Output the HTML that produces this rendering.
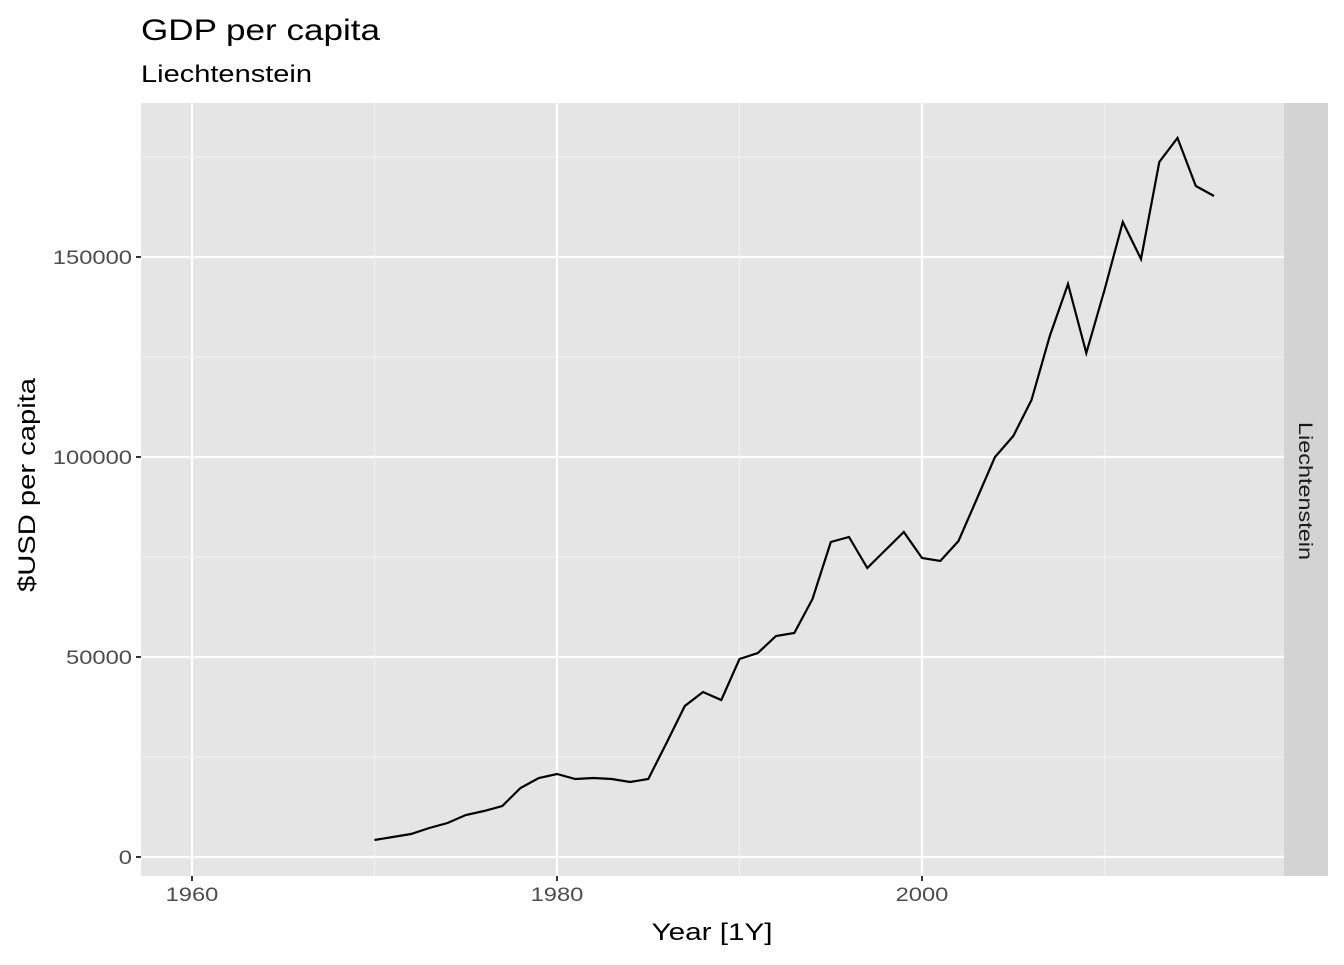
<!DOCTYPE html>
<html><head><meta charset="utf-8"><style>
body{margin:0;background:#fff;font-family:"Liberation Sans",Arial,sans-serif;}
</style></head><body>
<svg id="chart" width="1344" height="960" xmlns="http://www.w3.org/2000/svg">
<text x="141" y="40" font-size="30" textLength="239" lengthAdjust="spacingAndGlyphs" fill="#000">GDP per capita</text>
<text x="141" y="82" font-size="24" textLength="171" lengthAdjust="spacingAndGlyphs" fill="#000">Liechtenstein</text>
<rect x="141" y="103" width="1143" height="773" fill="#e5e5e5"/>
<rect x="1284" y="103" width="44" height="773" fill="#d3d3d3"/>
<text transform="translate(1299,491) rotate(90)" font-size="19" textLength="138" lengthAdjust="spacingAndGlyphs" fill="#1a1a1a" text-anchor="middle">Liechtenstein</text>
<g id="grid"></g>
<g id="series"></g>
<g id="axes"></g>
<text x="712" y="940" font-size="24" textLength="121" lengthAdjust="spacingAndGlyphs" text-anchor="middle" fill="#000">Year [1Y]</text>
<text transform="translate(35,485) rotate(-90)" font-size="24" textLength="214" lengthAdjust="spacingAndGlyphs" text-anchor="middle" fill="#000">$USD per capita</text>
</svg>
<script>
const years=[1970,1971,1972,1973,1974,1975,1976,1977,1978,1979,1980,1981,1982,1983,1984,1985,1986,1987,1988,1989,1990,1991,1992,1993,1994,1995,1996,1997,1998,1999,2000,2001,2002,2003,2004,2005,2006,2007,2008,2009,2010,2011,2012,2013,2014,2015,2016];
const gdp=[4250,5000,5750,7250,8500,10500,11500,12750,17250,19750,20750,19500,19750,19500,18750,19500,28500,37750,41250,39250,49500,51000,55250,56000,64500,78750,80000,72250,76750,81250,74750,74000,79000,89500,100000,105250,114250,130250,143250,126000,141750,158750,149500,173750,179750,167750,165250];
const xTicks=[1960,1980,2000];
const xMinor=[1970,1990,2010];
const yTicks=[0,50000,100000,150000];
const yMinor=[25000,75000,125000,175000];
const NS='http://www.w3.org/2000/svg';
const px=x=>192+(x-1960)*18.25;
const py=y=>857-y*0.004;
const L=141,R=1284,T=103,B=876;
const grid=document.getElementById('grid'),axes=document.getElementById('axes'),series=document.getElementById('series');
function mk(tag,attrs,parent){const e=document.createElementNS(NS,tag);for(const k in attrs)e.setAttribute(k,attrs[k]);parent.appendChild(e);return e;}
yMinor.forEach(v=>{const e=mk('line',{x1:L,x2:R,y1:py(v),y2:py(v),stroke:'#f2f2f2','stroke-width':1.1},grid);

});
xMinor.forEach(v=>{const e=mk('line',{x1:px(v),x2:px(v),y1:T,y2:B,stroke:'#f2f2f2','stroke-width':1.1},grid);

});
yTicks.forEach(v=>{const e=mk('line',{x1:L,x2:R,y1:py(v),y2:py(v),stroke:'#fff','stroke-width':2.2},grid);


const t=mk('line',{x1:L-5,x2:L,y1:py(v),y2:py(v),stroke:'#333','stroke-width':2},axes);


const s=String(v);
const tx=mk('text',{x:L-9,y:py(v)+7,'font-size':19,'text-anchor':'end',fill:'#4d4d4d',textLength:s.length*13.2,lengthAdjust:'spacingAndGlyphs'},axes);tx.textContent=s;

});
xTicks.forEach(v=>{const e=mk('line',{x1:px(v),x2:px(v),y1:T,y2:B,stroke:'#fff','stroke-width':2.2},grid);


const t=mk('line',{x1:px(v),x2:px(v),y1:B,y2:B+5,stroke:'#333','stroke-width':2},axes);


const s=String(v);
const tx=mk('text',{x:px(v),y:B+25,'font-size':19,'text-anchor':'middle',fill:'#4d4d4d',textLength:s.length*13.2,lengthAdjust:'spacingAndGlyphs'},axes);tx.textContent=s;

});
const d=years.map((y,i)=>(i?'L':'M')+px(y).toFixed(1)+','+py(gdp[i]).toFixed(1)).join('');
const p=mk('path',{d:d,fill:'none',stroke:'#000','stroke-width':2.2},series);


</script>
</body></html>
